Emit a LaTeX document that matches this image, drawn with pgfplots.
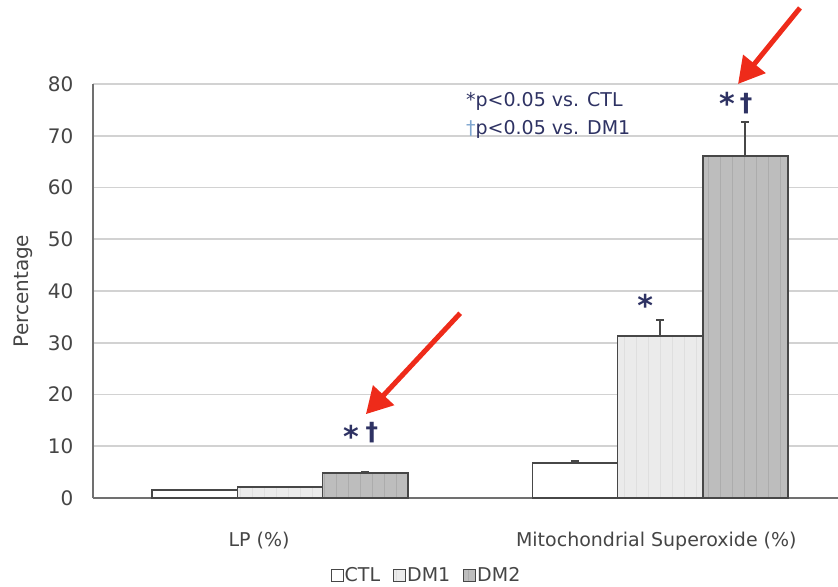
\documentclass[border=0pt]{standalone}
\usepackage{fontspec}
\setmainfont{DejaVu Sans}
\usepackage{pgfplots}
\pgfplotsset{compat=1.18}
\usetikzlibrary{arrows.meta,patterns.meta}
\definecolor{gridc}{HTML}{D2D2D2}
\definecolor{axc}{HTML}{707070}
\definecolor{barb}{HTML}{474747}
\definecolor{dmone}{HTML}{EBEBEB}
\definecolor{dmtwo}{HTML}{BDBDBD}
\definecolor{txt}{HTML}{454545}
\definecolor{sig}{HTML}{2E3263}
\definecolor{dag}{HTML}{7FA6CF}
\definecolor{arr}{HTML}{EE2B1A}
\begin{document}
\begin{tikzpicture}
\begin{axis}[
  name=ax, at={(0,0)}, anchor=south west,
  scale only axis, width=745bp, height=414bp,
  xmin=-0.492, xmax=1.468, ymin=0, ymax=80,
  ybar=0pt, bar width=0.224,
  axis x line=bottom, axis y line=left,
  axis line style={-, draw=axc, line width=1.6bp},
  xtick={-0.055,0.99},
  xticklabels={LP (\%), Mitochondrial Superoxide (\%)},
  ytick={0,10,...,80},
  xtick style={draw=none}, ytick style={draw=none},
  ymajorgrids, grid style={gridc, line width=1.8bp},
  font=\fontsize{19bp}{23bp}\selectfont,
  /pgf/number format/assume math mode=true,
  ticklabel style={txt},
  yticklabel style={xshift=-14bp, font=\fontsize{20bp}{24bp}\selectfont},
  xticklabel style={yshift=-28bp},
  ylabel={Percentage},
  ylabel style={at={(axis description cs:-0.0765,0.5)}, anchor=south, rotate=0, txt, font=\fontsize{20bp}{24bp}\selectfont},
  clip=false,
  legend columns=3,
  legend style={at={(0.447,-0.186)}, anchor=center, draw=none, fill=none,
    font=\fontsize{19bp}{23bp}\selectfont, text=txt,
    /tikz/every odd column/.append style={column sep=0bp},
    /tikz/every even column/.append style={column sep=12bp},
    /tikz/every node/.append style={inner xsep=1bp}},
  legend image code/.code={\draw[#1, line width=1bp] (0bp,-6bp) rectangle (12bp,6bp);},
  error bars/error bar style={barb, line width=1.6bp},
  error bars/error mark options={barb, line width=1.6bp, mark size=4bp, rotate=90},
]
\addplot[draw=barb, line width=1.8bp, fill=white,
  error bars/.cd, y dir=plus, y explicit]
  coordinates {(0,1.5) +- (0,0.1) (1,6.7) +- (0,0.4)};
\addlegendentry{CTL}
\addplot[draw=barb, line width=1.8bp, fill=dmone,
  postaction={pattern={Lines[angle=90,distance=12bp,line width=0.8bp]}, pattern color=gray!25},
  error bars/.cd, y dir=plus, y explicit]
  coordinates {(0,2.1) +- (0,0.15) (1,31.3) +- (0,3.1)};
\addlegendentry{DM1}
\addplot[draw=barb, line width=1.8bp, fill=dmtwo,
  postaction={pattern={Lines[angle=90,distance=12bp,line width=0.8bp]}, pattern color=gray!65},
  error bars/.cd, y dir=plus, y explicit]
  coordinates {(0,4.8) +- (0,0.2) (1,66.1) +- (0,6.6)};
\addlegendentry{DM2}
% significance marks
\node[sig, font=\fontsize{30bp}{30bp}\selectfont\bfseries, anchor=center] at (axis cs:0.187,12.0) {*};
\node[sig, font=\fontsize{25bp}{25bp}\selectfont\bfseries, anchor=center] at (axis cs:0.242,12.6) {†};
\node[sig, font=\fontsize{30bp}{30bp}\selectfont\bfseries, anchor=center] at (axis cs:0.961,37.2) {*};
\node[sig, font=\fontsize{30bp}{30bp}\selectfont\bfseries, anchor=center] at (axis cs:1.176,76.2) {*};
\node[sig, font=\fontsize{25bp}{25bp}\selectfont\bfseries, anchor=center] at (axis cs:1.226,76.3) {†};
% note text
\node[sig, anchor=base west, font=\fontsize{19bp}{23bp}\selectfont, inner sep=0pt] at (axis cs:0.489,75.6) {*p<0.05 vs. CTL};
\node[sig, anchor=base west, font=\fontsize{19bp}{23bp}\selectfont, inner sep=0pt] at (axis cs:0.489,70.2) {\textcolor{dag}{†}p<0.05 vs. DM1};
% red arrows
\draw[arr, line width=5bp, -{Triangle[length=26bp,width=28bp]}] (axis cs:0.474,35.7) -- (axis cs:0.226,16.2);
\draw[arr, line width=5bp, -{Triangle[length=26bp,width=28bp]}] (axis cs:1.368,94.7) -- (axis cs:1.205,80.0);
\end{axis}
\pgfresetboundingbox
\path[use as bounding box] ([xshift=-93bp,yshift=-89bp]ax.south west) rectangle ([yshift=84bp]ax.north east);
\end{tikzpicture}
\end{document}
